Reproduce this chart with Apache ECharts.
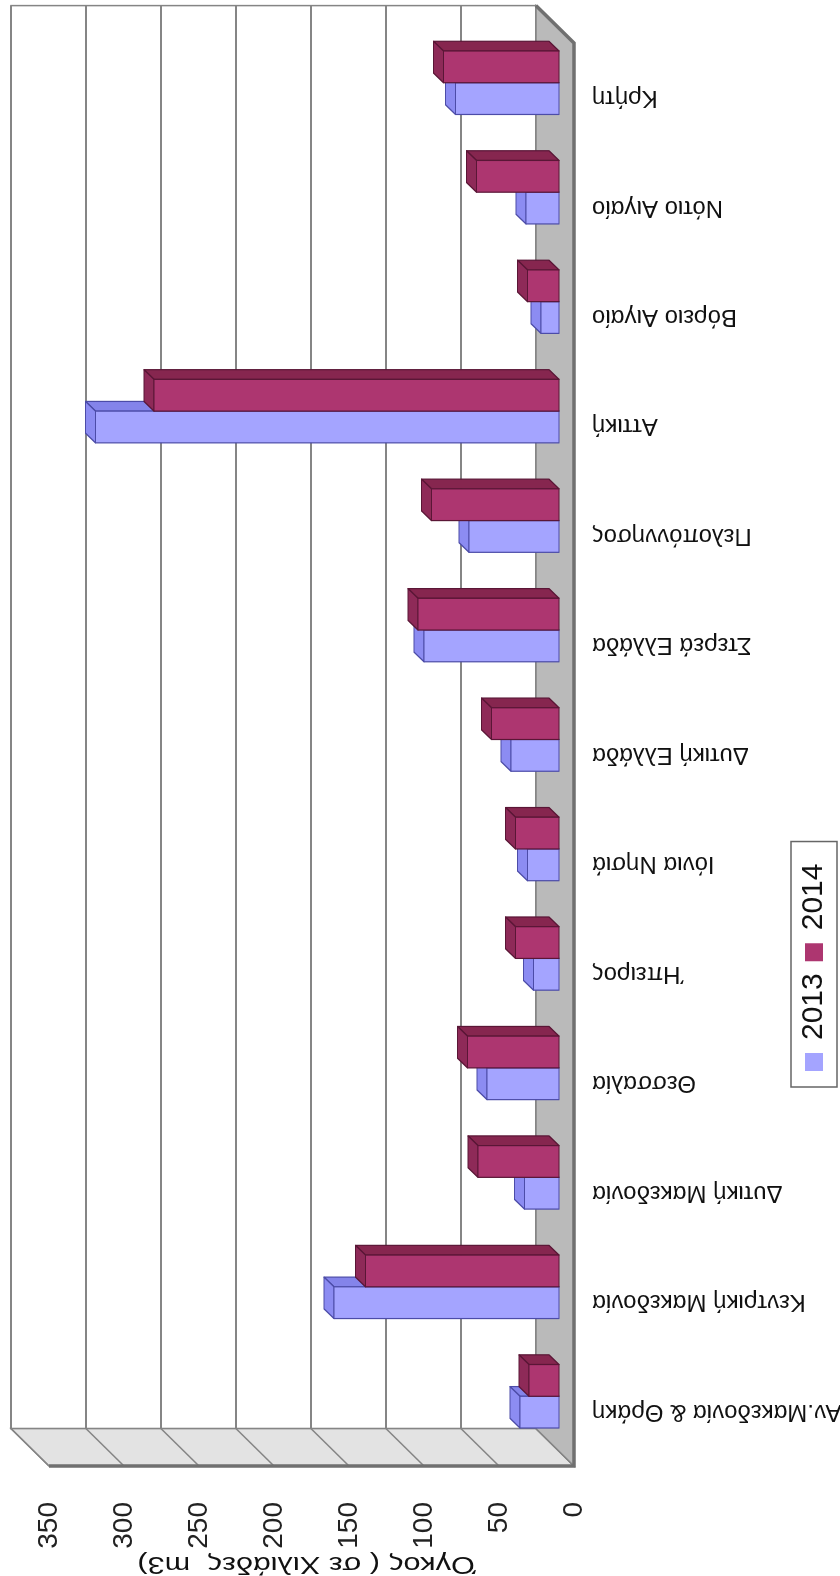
<!DOCTYPE html>
<html>
<head>
<meta charset="utf-8">
<script src="https://cdn.jsdelivr.net/npm/echarts@6/dist/echarts.min.js"></script>
<style>
html,body{margin:0;padding:0;overflow:hidden;background:#fff;width:840px;height:1576px;}
#chart{position:absolute;left:0;top:0;width:1576px;height:840px;transform-origin:0 0;transform:translateY(1576px) rotate(-90deg);}
</style>
</head>
<body>
<div id="chart"></div>
<script>
// ---- data ----
const categories = ['Αν.Μακεδονία & Θράκη','Κεντρική Μακεδονία','Δυτική Μακεδονία','Θεσσαλία','Ήπειρος','Ιόνια Νησιά','Δυτική Ελλάδα','Στερεά Ελλάδα','Πελοπόννησος','Αττική','Βόρειο Αιγαίο','Νότιο Αιγαίο','Κρήτη'];
const seriesNames = ['2013','2014'];
const values2013 = [26, 150, 23, 48, 17, 21, 32, 90, 60, 309, 12, 22, 69];
const values2014 = [20, 129, 54, 61, 29, 29, 45, 94, 85, 270, 21, 55, 77];
const valueTicks = [0, 50, 100, 150, 200, 250, 300, 350];
const axisTitle = 'Όγκος ( σε Χιλιάδες  m3)';

// ---- styling / geometry ----
const FONT = "'Liberation Sans', Arial, sans-serif";
const DXW = 37.4, DYW = -38;   // wall depth offset
const DXB = 9.7, DYB = -10;    // bar depth offset
const colors = {
  '2013': {front:'#a4a4ff', top:'#8c8cf2', side:'#8484ea', edge:'#4c4ca8'},
  '2014': {front:'#ad3670', top:'#8e2a58', side:'#86264f', edge:'#5a1636'}
};

const chart = echarts.init(document.getElementById('chart'), null, {renderer:'canvas'});

function frameItem(params, api){
  const cs = params.coordSys;
  const xL = cs.x, xR = cs.x + cs.width;
  const y = v => api.coord([0, v])[1];
  const vMax = valueTicks[valueTicks.length-1];
  const y0 = y(0), yM = y(vMax);
  const ch = [];
  const gridC = '#858585';
  ch.push({type:'rect', shape:{x:xL+DXW, y:yM+DYW, width:cs.width, height:y0-yM}, style:{fill:'#ffffff', stroke:gridC, lineWidth:1.5}});
  valueTicks.forEach(v => ch.push({type:'line', shape:{x1:xL+DXW, y1:y(v)+DYW, x2:xR+DXW, y2:y(v)+DYW}, style:{stroke:gridC, lineWidth:2}}));
  ch.push({type:'polygon', shape:{points:[[xL,yM],[xL+DXW,yM+DYW],[xL+DXW,y0+DYW],[xL,y0]]}, style:{fill:'#e3e3e3', stroke:gridC, lineWidth:1.5}});
  valueTicks.forEach(v => ch.push({type:'line', shape:{x1:xL, y1:y(v), x2:xL+DXW, y2:y(v)+DYW}, style:{stroke:gridC, lineWidth:1.5}}));
  ch.push({type:'polygon', shape:{points:[[xL,y0],[xL+DXW,y0+DYW],[xR+DXW,y0+DYW],[xR,y0]]}, style:{fill:'#bababa', stroke:gridC, lineWidth:1.5}});
  ch.push({type:'polyline', shape:{points:[[xL,yM],[xL,y0],[xR,y0],[xR+DXW,y0+DYW]]}, style:{stroke:'#707070', lineWidth:3.5, fill:null}});
  return {type:'group', children:ch};
}

function barItemFactory(si){
  const c = colors[seriesNames[si]];
  return function(params, api){
    const i = api.value(0), v = api.value(1);
    const base = api.coord([i, 0]);
    const top = api.coord([i, v]);
    const bw = api.size([1, 0])[0] * 0.29;
    const x0 = si === 0 ? base[0] - bw : base[0];
    const x1 = x0 + bw;
    const yB = base[1], yT = top[1];
    const ls = {stroke:c.edge, lineWidth:1.2, lineJoin:'round'};
    return {type:'group', children:[
      {type:'polygon', shape:{points:[[x1,yT],[x1,yB],[x1+DXB,yB+DYB],[x1+DXB,yT+DYB]]}, style:Object.assign({fill:c.side}, ls)},
      {type:'polygon', shape:{points:[[x0,yT],[x1,yT],[x1+DXB,yT+DYB],[x0+DXB,yT+DYB]]}, style:Object.assign({fill:c.top}, ls)},
      {type:'rect', shape:{x:x0, y:yT, width:bw, height:yB-yT}, style:Object.assign({fill:c.front}, ls)}
    ]};
  };
}

const valueAxisBase = {type:'value', min:0, max:350, interval:50};
const option = {
  animation:false,
  backgroundColor:'#ffffff',
  textStyle:{fontFamily:FONT},
  legend:{
    data:seriesNames, orient:'horizontal', left:489, top:791,
    itemWidth:18, itemHeight:18, itemGap:12, icon:'rect',
    padding:[8,22,8,16], borderColor:'#666', borderWidth:1.5,
    textStyle:{fontSize:30, color:'#111', fontFamily:FONT, padding:[0,0,0,8]}
  },
  graphic:[
    {type:'text', x:12, y:306, rotation:Math.PI/2, scaleX:1.28, scaleY:1, silent:true,
     style:{text:axisTitle, fontSize:24, fill:'#111', fontFamily:FONT, align:'center', verticalAlign:'middle'}}
  ],
  grid:[
    {left:110, top:49, width:1423, height:525, containLabel:false, outerBoundsMode:'none'},
    {left:125, top:34, width:1423, height:525, containLabel:false, outerBoundsMode:'none'}
  ],
  xAxis:[
    {type:'category', gridIndex:0, data:categories, axisLine:{show:false}, axisTick:{show:false}, splitLine:{show:false},
     axisLabel:{interval:0, rotate:90, margin:18, fontSize:24, color:'#111', fontFamily:FONT}},
    {type:'category', gridIndex:1, data:categories, show:false}
  ],
  yAxis:[
    Object.assign({}, valueAxisBase, {gridIndex:0, axisLine:{show:false}, axisTick:{show:false}, splitLine:{show:false},
      axisLabel:{margin:36, fontSize:28, color:'#222', fontFamily:FONT}}),
    Object.assign({}, valueAxisBase, {gridIndex:1, show:false, splitLine:{show:false}})
  ],
  series:[
    {type:'custom', name:'frame', xAxisIndex:0, yAxisIndex:0, silent:true, z:1,
     renderItem:frameItem, data:[[0,0]], encode:{x:0,y:1}},
    {type:'custom', name:seriesNames[0], xAxisIndex:1, yAxisIndex:1, z:2,
     itemStyle:{color:colors['2013'].front},
     renderItem:barItemFactory(0), data:values2013.map((v,i)=>[i,v]), encode:{x:0,y:1}},
    {type:'custom', name:seriesNames[1], xAxisIndex:1, yAxisIndex:1, z:3,
     itemStyle:{color:colors['2014'].front},
     renderItem:barItemFactory(1), data:values2014.map((v,i)=>[i,v]), encode:{x:0,y:1}}
  ]
};
chart.setOption(option);
</script>
</body>
</html>
